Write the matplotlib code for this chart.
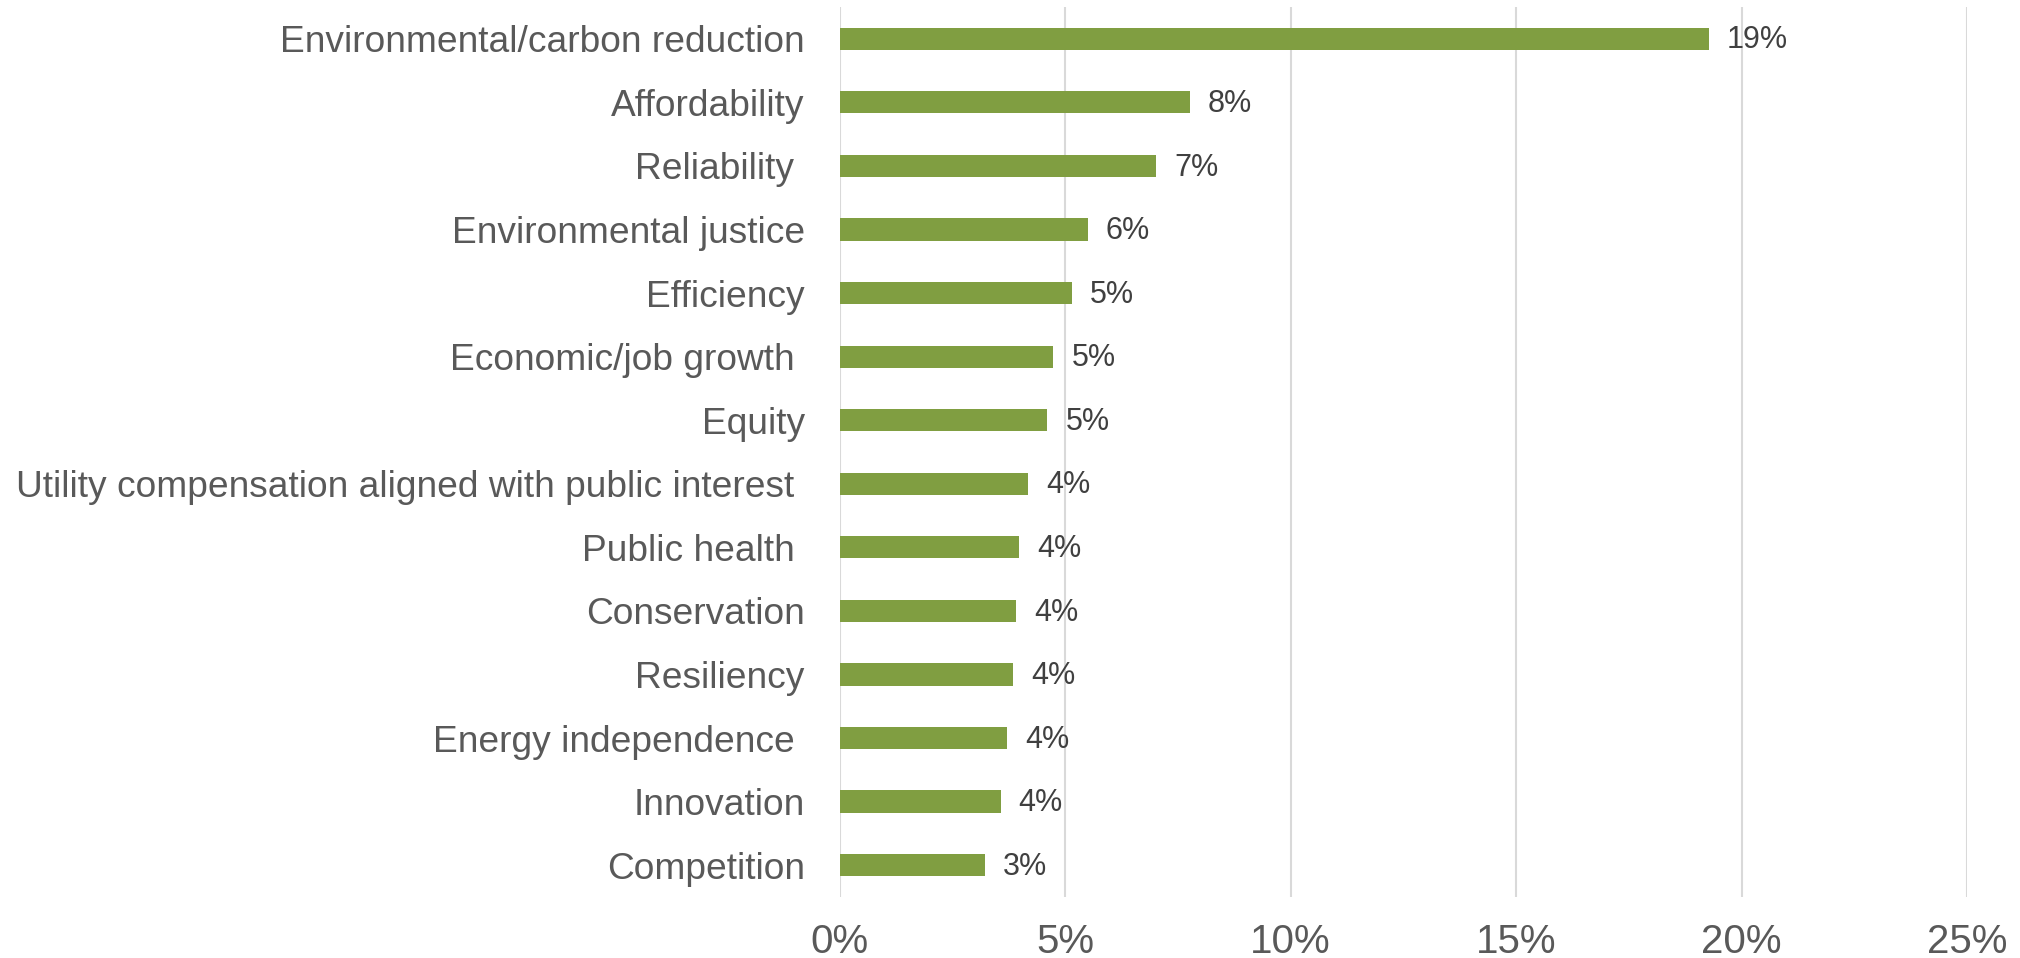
import matplotlib
matplotlib.use("Agg")
import matplotlib.pyplot as plt
from matplotlib.ticker import FuncFormatter

plt.rcParams['font.family'] = ['Liberation Sans', 'DejaVu Sans']

# survey shares, top to bottom
categories = [
    "Environmental/carbon reduction",
    "Affordability",
    "Reliability ",
    "Environmental justice",
    "Efficiency",
    "Economic/job growth ",
    "Equity",
    "Utility compensation aligned with public interest ",
    "Public health ",
    "Conservation",
    "Resiliency",
    "Energy independence ",
    "Innovation",
    "Competition",
]
shares = [19.27, 7.77, 7.02, 5.50, 5.16, 4.74, 4.61,
          4.19, 3.99, 3.92, 3.85, 3.71, 3.57, 3.23]
x_ticks = [0, 5, 10, 15, 20, 25]

bar_color = "#809E41"
grid_color = "#D9D9D9"

fig = plt.figure(figsize=(20.2, 9.58), dpi=100)
ax = fig.add_axes([0.4156, 0.0637, 0.9738 - 0.4156, 0.9927 - 0.0637])

ypos = list(range(len(categories)))
ax.barh(ypos, shares, height=0.35, color=bar_color, zorder=3)

# value labels just right of each bar
for y, v in zip(ypos, shares):
    ax.annotate(f"{v:.0f}%", xy=(v, y), xytext=(13, -1.2), textcoords="offset points",
                ha="left", va="center", fontsize=22, color="#404040", zorder=4)

ax.set_xlim(0, 25)
ax.set_ylim(len(categories) - 0.5, -0.5)
ax.set_xticks(x_ticks)
ax.xaxis.set_major_formatter(FuncFormatter(lambda v, p: f"{v:.0f}%"))
ax.set_yticks(ypos)
ax.set_yticklabels(categories)

ax.grid(axis="x", color=grid_color, linewidth=1.5, zorder=0)
for s in ax.spines.values():
    s.set_visible(False)

ax.tick_params(axis="x", length=0, pad=19, labelsize=29, labelcolor="#595959")
ax.tick_params(axis="y", length=0, pad=25, labelsize=26.7, labelcolor="#595959")

fig.savefig("out.png", dpi=100, facecolor="white")
